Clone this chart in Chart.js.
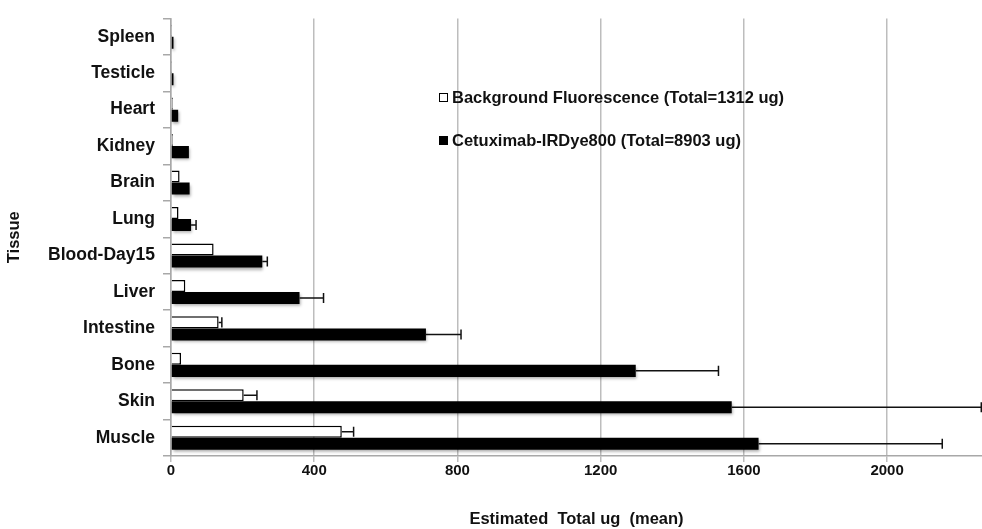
<!DOCTYPE html>
<html>
<head>
<meta charset="utf-8">
<script src="https://cdn.jsdelivr.net/npm/chart.js@4/dist/chart.umd.min.js"></script>
<style>
  body { margin: 0; background: #fff; }
  #wrap { position: relative; width: 982px; height: 529px; }
  .legend { position: absolute; left: 439px; font: bold 16.5px "Liberation Sans", Arial, sans-serif; color: #111; white-space: nowrap; line-height: 20px; }
  .legend i { display: inline-block; width: 9px; height: 9px; margin-right: 4px; box-sizing: border-box; border: 1.5px solid #000; vertical-align: 1px; }
</style>
</head>
<body>
<div id="wrap">
  <canvas id="chart" width="982" height="529"></canvas>
  <div class="legend" style="top:87px"><i style="background:#fff"></i>Background Fluorescence (Total=1312 ug)</div>
  <div class="legend" style="top:130px"><i style="background:#000"></i>Cetuximab-IRDye800 (Total=8903 ug)</div>
</div>
<script>
const tissues = ["Spleen", "Testicle", "Heart", "Kidney", "Brain", "Lung", "Blood-Day15", "Liver", "Intestine", "Bone", "Skin", "Muscle"];
const background = [1, 1, 5, 5, 24, 21, 119, 40, 133, 28, 203, 477];
const backgroundErr = [0, 0, 0, 0, 0, 0, 0, 0, 9, 0, 37, 33];
const cetuximab = [7, 7, 20, 50, 52, 56, 255, 359, 712, 1298, 1566, 1641];
const cetuximabErr = [0, 0, 0, 0, 0, 14, 14, 67, 98, 231, 697, 513];
const xTicks = [0, 400, 800, 1200, 1600, 2000];

const font = "'Liberation Sans', Arial, sans-serif";
const errors = [backgroundErr, cetuximabErr];

// soft drop shadow under the black bars
const shadowPlugin = {
  id: "shadow",
  beforeDatasetDraw(chart, args) {
    if (args.index !== 1) return;
    const ctx = chart.ctx;
    ctx.save();
    ctx.shadowColor = "rgba(0,0,0,0.35)";
    ctx.shadowBlur = 3;
    ctx.shadowOffsetX = 1;
    ctx.shadowOffsetY = 2;
  },
  afterDatasetDraw(chart, args) {
    if (args.index === 1) chart.ctx.restore();
  }
};

// plus-only error bars
const errorBars = {
  id: "errorBars",
  afterDatasetsDraw(chart) {
    const ctx = chart.ctx;
    const x = chart.scales.x;
    ctx.save();
    ctx.strokeStyle = "#111";
    ctx.lineWidth = 1.5;
    chart.data.datasets.forEach((ds, di) => {
      chart.getDatasetMeta(di).data.forEach((bar, i) => {
        const err = errors[di][i];
        if (!err) return;
        const x0 = x.getPixelForValue(ds.data[i]);
        const x1 = x.getPixelForValue(ds.data[i] + err);
        const half = bar.height / 2 - 1;
        ctx.beginPath();
        ctx.moveTo(x0, bar.y);
        ctx.lineTo(x1, bar.y);
        ctx.moveTo(x1, bar.y - half);
        ctx.lineTo(x1, bar.y + half);
        ctx.stroke();
      });
    });
    ctx.restore();
  }
};

new Chart(document.getElementById("chart").getContext("2d"), {
  type: "bar",
  data: {
    labels: tissues,
    datasets: [
      { label: "Background Fluorescence (Total=1312 ug)", data: background, backgroundColor: "#fff", borderColor: "#000", borderWidth: 1.5 },
      { label: "Cetuximab-IRDye800 (Total=8903 ug)", data: cetuximab, backgroundColor: "#000", borderWidth: 0 }
    ]
  },
  options: {
    indexAxis: "y",
    responsive: false,
    animation: false,
    categoryPercentage: 0.66,
    barPercentage: 1,
    layout: { padding: { top: 12, right: 0, bottom: 0, left: 0 } },
    plugins: { legend: { display: false }, tooltip: { enabled: false } },
    scales: {
      x: {
        min: 0,
        max: 2265,
        afterFit: s => { s.height = 73; },
        afterBuildTicks: s => { s.ticks = xTicks.map(v => ({ value: v })); },
        ticks: { color: "#111", padding: 0, callback: v => String(v), font: { family: font, size: 15, weight: "bold" } },
        grid: { color: "#bdbdbd", lineWidth: 1.5, tickLength: 6 },
        border: { color: "#a8a8a8", width: 1.5 },
        title: { display: true, text: "Estimated  Total ug  (mean)", color: "#111", padding: { top: 0, bottom: 0 }, font: { family: font, size: 16.5, weight: "bold" } }
      },
      y: {
        afterFit: s => { s.width = 171; },
        ticks: { color: "#111", padding: 8, font: { family: font, size: 17.5, weight: "bold" } },
        grid: { offset: true, drawOnChartArea: false, color: "#a8a8a8", lineWidth: 1.5, tickLength: 8 },
        border: { color: "#a8a8a8", width: 1.5 },
        title: { display: true, text: "Tissue", color: "#111", padding: { top: 5, bottom: 0 }, font: { family: font, size: 16.5, weight: "bold" } }
      }
    }
  },
  plugins: [shadowPlugin, errorBars]
});
</script>
</body>
</html>
